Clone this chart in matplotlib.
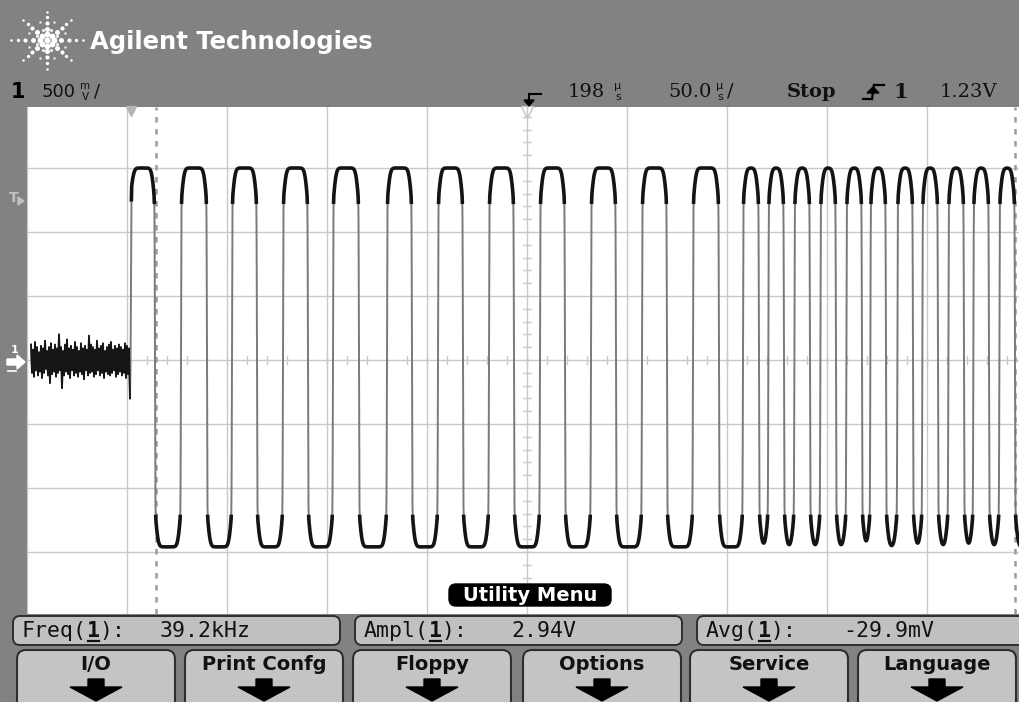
import numpy as np
import matplotlib
matplotlib.use("Agg")
import matplotlib.pyplot as plt
from matplotlib.patches import FancyBboxPatch, Polygon

volts_per_div = 0.5          # 500 mV/div
time_per_div_us = 50.0       # 50.0 us/div
delay_us = 198.0             # 198 us
trigger_level_v = 1.23
high_level_v = 1.50
low_level_v = -1.46

rise_times_us = [0.0, 25.0, 50.5, 76.0, 101.0, 128.0, 153.5, 179.0, 204.5, 230.0,
                 255.5, 281.0, 306.0, 318.7, 331.7, 344.7, 357.7, 369.7, 383.2,
                 395.7, 408.7, 421.2, 434.2]
fall_times_us = [12.0, 38.0, 63.0, 88.5, 114.0, 140.5, 166.0, 191.5, 217.0, 242.5,
                 268.0, 294.0, 314.0, 326.5, 339.5, 352.5, 365.5, 377.5, 391.0,
                 403.5, 416.5, 429.0, 442.0]

noise_times_us = [-50, -49, -48, -47, -46, -45, -44, -43, -42, -41, -40, -39, -38,
                  -37, -36, -35, -34, -33, -32, -31, -30, -29, -28, -27, -26, -25,
                  -24, -23, -22, -21, -20, -19, -18, -17, -16, -15, -14, -13, -12,
                  -11, -10, -9, -8, -7, -6, -5, -4, -3, -2, -1]
noise_max_v = [0.12, 0.08, 0.14, 0.10, 0.06, 0.11, 0.09, 0.15, 0.07, 0.10, 0.13, 0.08,
               0.12, 0.09, 0.20, 0.10, 0.07, 0.12, 0.16, 0.09, 0.11, 0.08, 0.14, 0.10,
               0.07, 0.13, 0.09, 0.11, 0.08, 0.19, 0.12, 0.10, 0.08, 0.15, 0.09, 0.11,
               0.13, 0.07, 0.10, 0.12, 0.14, 0.08, 0.11, 0.09, 0.12, 0.10, 0.08, 0.13,
               0.11, 0.09]
noise_min_v = [-0.10, -0.13, -0.08, -0.12, -0.09, -0.14, -0.10, -0.07, -0.12, -0.18,
               -0.11, -0.09, -0.13, -0.10, -0.08, -0.22, -0.12, -0.09, -0.11, -0.14,
               -0.08, -0.12, -0.10, -0.13, -0.09, -0.11, -0.15, -0.08, -0.12, -0.10,
               -0.09, -0.13, -0.11, -0.08, -0.12, -0.10, -0.14, -0.09, -0.11, -0.12,
               -0.10, -0.08, -0.13, -0.11, -0.09, -0.12, -0.10, -0.14, -0.11, -0.30]

cursor_times_us = [12.5, 442.0]

header_title = "Agilent Technologies"
measure_names = ["Freq", "Ampl", "Avg"]
measure_values = ["39.2kHz", "2.94V", "-29.9mV"]
softkey_labels = ["I/O", "Print Confg", "Floppy", "Options", "Service", "Language"]
menu_title = "Utility Menu"

# ---------------- layout (pixels) ----------------
W, H = 1020, 702
PX_L, PX_R, PX_T, PX_B = 27, 1020, 107, 614
CX, CY = 527, 360
PX_DIV_X, PX_DIV_Y = 100.0, 64.0


def t_of(px):
    return delay_us + (px - CX) / PX_DIV_X * time_per_div_us


def v_of(py):
    return (CY - py) / PX_DIV_Y * volts_per_div


fig = plt.figure(figsize=(W / 100, H / 100), dpi=100)
fig.patch.set_facecolor("#828282")

ax = fig.add_axes([PX_L / W, (H - PX_B) / H, (PX_R - PX_L) / W, (PX_B - PX_T) / H], zorder=1)
ax.set_facecolor("white")
ax.set_xlim(t_of(PX_L), t_of(PX_R))
ax.set_ylim(v_of(PX_B), v_of(PX_T))
ax.set_xticks([])
ax.set_yticks([])
for s in ax.spines.values():
    s.set_visible(False)

grid_c = "#c9c9c9"
for k in range(-5, 6):
    ax.axvline(delay_us + k * time_per_div_us, color=grid_c, lw=1.0, zorder=1)
for k in range(-3, 4):
    ax.axhline(k * volts_per_div, color=grid_c, lw=1.0, zorder=1)

# minor ticks on centre cross
tick_dv = 4 / PX_DIV_Y * volts_per_div
for i in range(-25, 26):
    tt = delay_us + i * 0.2 * time_per_div_us
    ax.plot([tt, tt], [-tick_dv, tick_dv], color=grid_c, lw=1.0, zorder=1)
tick_dt = 4 / PX_DIV_X * time_per_div_us
for i in range(-20, 21):
    vv = i * 0.2 * volts_per_div
    ax.plot([delay_us - tick_dt, delay_us + tick_dt], [vv, vv], color=grid_c, lw=1.0, zorder=1)

for tc in cursor_times_us:
    ax.axvline(tc, color="#9c9c9c", lw=1.8, ls=(0, (2.2, 2.6)), zorder=2)

# markers at top of graticule
ax.plot([0.0], [v_of(111)], marker="v", ms=7, color="#b5b5b5", mec="#b5b5b5",
        clip_on=False, zorder=3)
ax.plot([delay_us], [v_of(112)], marker="v", ms=8, mfc="none", mec="#c4c4c4",
        mew=1.0, clip_on=False, zorder=3)

# ---------------- waveform ----------------
t_end = t_of(PX_R)
dt = 0.05
t_grid = np.arange(-14.0, t_end + 14.0, dt)
edge_t = np.array(rise_times_us + fall_times_us)
edge_v = np.array([high_level_v] * len(rise_times_us) + [low_level_v] * len(fall_times_us))
order = np.argsort(edge_t)
edge_t, edge_v = edge_t[order], edge_v[order]
idx = np.searchsorted(edge_t, t_grid, side="right") - 1
ideal = np.where(idx >= 0, edge_v[np.clip(idx, 0, None)], noise_min_v[-1])

# probe response: steep edge plus a slower rounding part
kt = np.arange(-11.0, 11.0 + dt / 2, dt)
g_fast = np.exp(-0.5 * (kt / 0.15) ** 2)
g_slow = np.exp(-0.5 * (kt / 1.2) ** 2)
kernel = 0.80 * g_fast / g_fast.sum() + 0.20 * g_slow / g_slow.sum()
smooth = np.convolve(ideal, kernel, mode="same")
keep = (t_grid >= -0.4) & (t_grid <= t_end)
wt, wv = t_grid[keep], smooth[keep]

nt, nv = [], []
for t0, mx, mn in zip(noise_times_us, noise_max_v, noise_min_v):
    nt += [t0, t0 + 0.5]
    nv += [mx, mn]
nt = np.array(nt, dtype=float)
nv = np.array(nv, dtype=float)

T = np.concatenate([nt, wt])
V = np.concatenate([nv, wv])
ax.plot(T, V, color="#7a7a7a", lw=1.4, zorder=4)
Vd = np.where(np.abs(wv) > 1.22, wv, np.nan)
ax.plot(wt, Vd, color="#141414", lw=2.6, zorder=5)
ax.plot(nt, nv, color="#151515", lw=1.3, zorder=5)

# ---------------- overlay chrome ----------------
fg = fig.add_axes([0, 0, 1, 1], zorder=3)
fg.set_xlim(0, W)
fg.set_ylim(H, 0)
fg.axis("off")
fg.patch.set_alpha(0)

# logo starburst
lcx, lcy = 47, 40
for ang in range(0, 360, 45):
    a = np.deg2rad(ang)
    sx = 1.0 + 0.2 * abs(np.cos(a))
    for r, sz in [(6, 4.2), (12, 3.6), (18, 3.0), (24, 2.4), (30, 1.8)]:
        fg.plot(lcx + r * sx * np.cos(a), lcy + r * 0.95 * np.sin(a), "o", ms=sz,
                color="white", mec="none")
for ang in range(0, 360, 45):
    a = np.deg2rad(ang + 22.5)
    for r, sz in [(11, 2.4), (19, 1.8)]:
        fg.plot(lcx + r * np.cos(a), lcy + r * np.sin(a), "o", ms=sz,
                color="#e8e8e8", mec="none")
fg.plot(lcx, lcy, "o", ms=4.5, color="white", mec="none")
fg.text(90, 42, header_title, color="white", fontsize=17.5, fontweight="bold",
        family="DejaVu Sans", va="center", ha="left")

# status line
fg.text(11, 92, "1", fontsize=15, fontweight="bold", color="black", va="center",
        family="DejaVu Sans")
fg.text(42, 92, "500", fontsize=13, color="#111111", va="center", family="DejaVu Sans")
fg.text(85, 86, "m", fontsize=7.5, color="#111111", va="center", ha="center")
fg.text(85, 97, "V", fontsize=7.5, color="#111111", va="center", ha="center")
fg.text(94, 92, "/", fontsize=13, color="#111111", va="center", family="DejaVu Sans")

# delay icon
fg.plot([529, 541], [94, 94], color="black", lw=1.5)
fg.plot([529, 529], [94, 101], color="black", lw=1.5)
fg.add_patch(Polygon([[524, 100], [534, 100], [529, 106]], closed=True, color="black"))

fg.text(568, 92, "198", fontsize=14, color="#111111", va="center", family="DejaVu Serif")
fg.text(618, 86, "µ", fontsize=8, color="#111111", va="center", ha="center")
fg.text(618, 97, "s", fontsize=8, color="#111111", va="center", ha="center")
fg.text(668, 92, "50.0", fontsize=14, color="#111111", va="center", family="DejaVu Serif")
fg.text(720, 86, "µ", fontsize=8, color="#111111", va="center", ha="center")
fg.text(720, 97, "s", fontsize=8, color="#111111", va="center", ha="center")
fg.text(727, 92, "/", fontsize=14, color="#111111", va="center", family="DejaVu Serif")
fg.text(787, 92, "Stop", fontsize=14, fontweight="bold", color="#111111", va="center",
        family="DejaVu Serif")
# rising edge icon
fg.plot([863, 872], [99, 99], color="black", lw=1.6)
fg.plot([872, 874], [99, 85], color="black", lw=1.6)
fg.plot([874, 884], [85, 85], color="black", lw=1.6)
fg.add_patch(Polygon([[867, 93], [879, 93], [873, 87]], closed=True, color="black"))
fg.text(893, 92, "1", fontsize=15, fontweight="bold", color="#111111", va="center",
        family="DejaVu Serif")
fg.text(940, 92, f"{trigger_level_v:.2f}V", fontsize=14, color="#111111", va="center",
        family="DejaVu Serif")

# left strip markers
fg.text(9, 198, "T", fontsize=10, fontweight="bold", color="#c2c2c2", va="center")
fg.add_patch(Polygon([[18, 197], [24, 201], [18, 205]], closed=True, color="#c2c2c2"))
fg.text(11, 350, "1", fontsize=8, fontweight="bold", color="white", va="center")
fg.add_patch(Polygon([[7, 359], [17, 359], [17, 355], [25, 362], [17, 369], [17, 365],
                      [7, 365]], closed=True, color="white"))
fg.plot([8, 16], [371, 371], color="white", lw=1.2)

# Utility Menu label
fg.add_patch(FancyBboxPatch((449, 584), 162, 22,
                            boxstyle="round,pad=0,rounding_size=7",
                            fc="black", ec="black"))
fg.text(530, 595.5, menu_title, color="white", fontsize=14, fontweight="bold",
        va="center", ha="center", family="DejaVu Sans")

# measurement boxes
mono = "DejaVu Sans Mono"
mfs = 15.5
cw = 0.602 * mfs * 100 / 72
box_x = [13, 355, 697]
box_w = [327, 327, 335]
val_x = [160, 511, 843]
for bx, bw, name, val, vx in zip(box_x, box_w, measure_names, measure_values, val_x):
    fg.add_patch(FancyBboxPatch((bx, 616), bw, 29,
                                boxstyle="round,pad=0,rounding_size=7",
                                fc="#c0c0c0", ec="#2e2e2e", lw=1.4))
    lx = bx + 9
    fg.text(lx, 631, name + "(", fontsize=mfs, family=mono, color="#111111", va="center")
    x1 = lx + (len(name) + 1) * cw
    fg.text(x1, 631, "1", fontsize=mfs, family=mono, fontweight="bold", color="#111111",
            va="center")
    fg.plot([x1 + 1, x1 + cw - 1], [641, 641], color="#111111", lw=1.6)
    fg.text(x1 + cw, 631, "):", fontsize=mfs, family=mono, color="#111111", va="center")
    fg.text(vx, 631, val, fontsize=mfs, family=mono, color="#111111", va="center")

# softkeys
key_x = [17, 185, 353, 523, 690, 858]
key_w = 158
for kx, lab in zip(key_x, softkey_labels):
    fg.add_patch(FancyBboxPatch((kx, 650), key_w, 62,
                                boxstyle="round,pad=0,rounding_size=9",
                                fc="#c4c4c4", ec="#2e2e2e", lw=1.5))
    kc = kx + key_w / 2
    fg.text(kc, 664, lab, fontsize=14, fontweight="bold", color="#111111",
            va="center", ha="center", family="DejaVu Sans")
    fg.add_patch(Polygon([[kc - 8, 679], [kc + 8, 679], [kc + 8, 687], [kc + 26, 687],
                          [kc, 701], [kc - 26, 687], [kc - 8, 687]], closed=True,
                         color="black"))

fig.savefig("out.png", dpi=100, facecolor=fig.get_facecolor())
